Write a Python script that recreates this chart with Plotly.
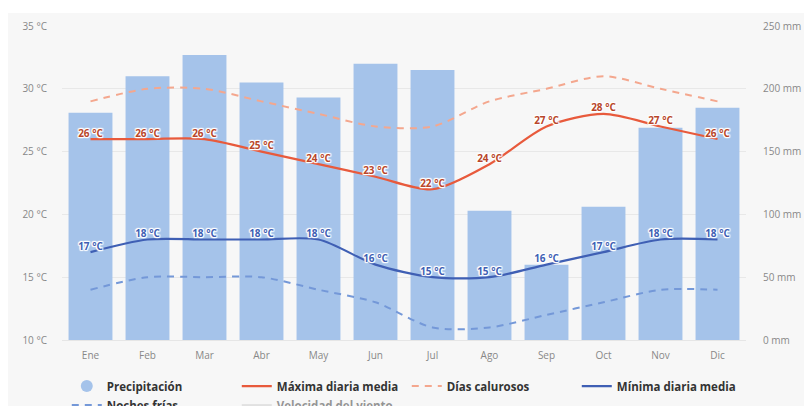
import plotly.graph_objects as go

# Monthly climate data
months = ["Ene", "Feb", "Mar", "Abr", "May", "Jun", "Jul", "Ago", "Sep", "Oct", "Nov", "Dic"]
precip_mm = [181, 210, 227, 205, 193, 220, 215, 103, 60, 106, 169, 185]
max_mean = [26, 26, 26, 25, 24, 23, 22, 24, 27, 28, 27, 26]
hot_days = [29, 30, 30, 29, 28, 27, 27, 29, 30, 31, 30, 29]
min_mean = [17, 18, 18, 18, 18, 16, 15, 15, 16, 17, 18, 18]
cold_nights = [14, 15, 15, 15, 14, 13, 11, 11, 12, 13, 14, 14]

temp_ticks = [10, 15, 20, 25, 30, 35]
precip_ticks = [0, 50, 100, 150, 200, 250]

BAR = "#a5c3ea"
MAX_C = "#e85a3c"
HOT_C = "#f4a78e"
MIN_C = "#3f5fb4"
COLD_C = "#7498d8"
FONT = "Open Sans"

halo = ("1px 0 1px #fff, -1px 0 1px #fff, 0 1px 1px #fff, 0 -1px 1px #fff, "
        "1px 1px 1px #fff, -1px -1px 1px #fff, 1px -1px 1px #fff, -1px 1px 1px #fff")

fig = go.Figure()

# precipitation bars on the primary (right-hand, mm) axis so the lines sit above them
fig.add_trace(go.Bar(
    x=months, y=precip_mm, yaxis="y", marker=dict(color=BAR, line=dict(width=0)),
    name="Precipitación", legendgroup="p", showlegend=False, hoverinfo="skip",
))
# legend entry with a round symbol for the precipitation bars
fig.add_trace(go.Scatter(
    x=[None], y=[None], mode="markers", name="Precipitación", legendgroup="p",
    marker=dict(symbol="circle", size=12, color=BAR), yaxis="y2",
))

fig.add_trace(go.Scatter(
    x=months, y=max_mean, name="Máxima diaria media", mode="lines+text", yaxis="y2",
    line=dict(color=MAX_C, width=2.2, shape="spline", smoothing=0.8),
    text=[f"{v} °C" for v in max_mean], textposition="top center",
    textfont=dict(family=FONT, size=10, color="#b8462a", weight="bold", shadow=halo),
))
fig.add_trace(go.Scatter(
    x=months, y=hot_days, name="Días calurosos", mode="lines", yaxis="y2",
    line=dict(color=HOT_C, width=2, dash="7px,6px", shape="spline", smoothing=0.8),
))
fig.add_trace(go.Scatter(
    x=months, y=min_mean, name="Mínima diaria media", mode="lines+text", yaxis="y2",
    line=dict(color=MIN_C, width=2.2, shape="spline", smoothing=0.8),
    text=[f"{v} °C" for v in min_mean], textposition="top center",
    textfont=dict(family=FONT, size=10, color="#3f5fb4", weight="bold", shadow=halo),
))
fig.add_trace(go.Scatter(
    x=months, y=cold_nights, name="Noches frías", mode="lines", yaxis="y2",
    line=dict(color=COLD_C, width=2, dash="7px,6px", shape="spline", smoothing=0.8),
))
fig.add_trace(go.Scatter(
    x=[None], y=[None], name="Velocidad del viento", mode="lines", yaxis="y2",
    line=dict(color="#cccccc", width=2), visible="legendonly",
))

L, R, T, B = 62, 57.5, 26, 66
W, H = 804, 406
pw, ph = W - L - R, H - T - B

fig.update_layout(
    width=W, height=H,
    margin=dict(l=L, r=R, t=T, b=B, pad=0, autoexpand=False),
    paper_bgcolor="#f7f7f7", plot_bgcolor="#f7f7f7",
    font=dict(family=FONT, size=10, color="#888888"),
    bargap=0.23,
    showlegend=True,
    legend=dict(
        orientation="h", x=0.007, xanchor="left", y=-0.1005, yanchor="top",
        font=dict(family=FONT, size=11.5, color="#333333", weight="bold"),
        entrywidth=125, tracegroupgap=0, itemclick=False,
        bgcolor="rgba(0,0,0,0)",
    ),
    xaxis=dict(
        type="category", range=[-0.5, 11.5], showgrid=False, zeroline=False,
        showline=True, linecolor="#e6e6e6", ticks="", ticklabelstandoff=6,
        tickfont=dict(family=FONT, size=10, color="#888888"), fixedrange=True,
    ),
    yaxis=dict(
        range=[0, 250], tickvals=precip_ticks, ticktext=[f"{v} mm" for v in precip_ticks],
        side="right", showgrid=True, gridcolor="#e8e8e8", gridwidth=1, zeroline=False,
        ticks="", ticklabelstandoff=16,
        tickfont=dict(family=FONT, size=10, color="#888888"),
    ),
    yaxis2=dict(
        range=[10, 35], tickvals=temp_ticks, ticktext=[f"{v} °C" for v in temp_ticks],
        overlaying="y", side="left", showgrid=False, zeroline=False,
        ticks="", ticklabelstandoff=14,
        tickfont=dict(family=FONT, size=10, color="#888888"),
    ),
    shapes=[
        # white strips around the chart panel
        dict(type="rect", xref="paper", yref="paper", layer="below",
             x0=-L / pw - 0.01, x1=(8 - L) / pw, y0=-B / ph - 0.05, y1=1 + T / ph + 0.05,
             fillcolor="white", line=dict(width=0)),
        dict(type="rect", xref="paper", yref="paper", layer="below",
             x0=-L / pw - 0.01, x1=1 + R / pw + 0.01, y0=1 + (T - 13) / ph, y1=1 + T / ph + 0.05,
             fillcolor="white", line=dict(width=0)),
    ],
)

fig.write_html("out.html", config={"displayModeBar": False})
